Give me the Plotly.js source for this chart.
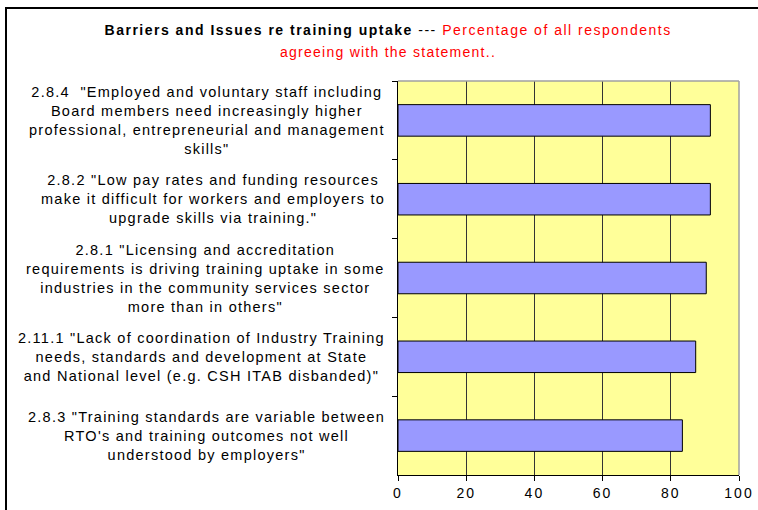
<!DOCTYPE html>
<html>
<head>
<meta charset="utf-8">
<script src="https://cdn.plot.ly/plotly-3.0.1.min.js"></script>
<style>
  body { margin: 0; padding: 0; background: #fff; overflow: hidden; }
  #chart { width: 758px; height: 510px; position: absolute; left: 0; top: 0; }
  #frame { position: absolute; left: 5px; top: 7px; width: 900px; height: 700px;
           border-top: 2px solid #000; border-left: 2px solid #000; pointer-events: none; }
  .annotation-text { letter-spacing: 1.25px; }
  .gtitle { letter-spacing: 1.5px; }
  .xtick text { letter-spacing: 2px; }
</style>
</head>
<body>
<div id="chart"></div>
<div id="frame"></div>
<script>
const categories = [
  '2.8.4  "Employed and voluntary staff including<br>Board members need increasingly higher<br>professional, entrepreneurial and management<br>skills"',
  '2.8.2 "Low pay rates and funding resources<br>make it difficult for workers and employers to<br>upgrade skills via training."',
  '2.8.1 "Licensing and accreditation<br>requirements is driving training uptake in some<br>industries in the community services sector<br>more than in others"',
  '2.11.1 "Lack of coordination of Industry Training<br>needs, standards and development at State<br>and National level (e.g. CSH ITAB disbanded)"',
  '2.8.3 "Training standards are variable between<br>RTO\'s and training outcomes not well<br>understood by employers"'
];
const categoryIds = ['2.8.4', '2.8.2', '2.8.1', '2.11.1', '2.8.3'];
const values = [91.6, 91.6, 90.4, 87.3, 83.4];
const xTicks = [0, 20, 40, 60, 80, 100];
const titleLine1 = '<b>Barriers and Issues re training uptake</b> --- <span style="color:#FF0000">Percentage of all respondents</span>';
const titleLine2 = 'agreeing with the statement..';

const font = 'Arial, "Liberation Sans", sans-serif';

const trace = {
  type: 'bar',
  orientation: 'h',
  x: values,
  y: categoryIds,
  marker: { color: '#9999FF', line: { color: '#000', width: 1 } },
  hoverinfo: 'x+y'
};

const annotations = categories.map((c, i) => ({
  xref: 'paper', yref: 'y',
  x: -0.031, y: categoryIds[i],
  xanchor: 'right', yanchor: 'middle',
  align: 'center',
  text: c,
  showarrow: false,
  font: { family: font, size: 14.5, color: '#000' }
}));
annotations.push({
  xref: 'paper', yref: 'paper',
  x: -0.029, y: 1.0736,
  xanchor: 'center', yanchor: 'middle',
  text: titleLine2,
  showarrow: false,
  font: { family: font, size: 14, color: '#FF0000' }
});

const layout = {
  width: 758, height: 510,
  margin: { l: 398, r: 19, t: 81, b: 35 },
  paper_bgcolor: '#fff',
  plot_bgcolor: '#FFFF99',
  showlegend: false,
  bargap: 0.6,
  title: {
    text: titleLine1,
    font: { family: font, size: 14, color: '#000' },
    xref: 'container', yref: 'container',
    x: 0.512, xanchor: 'center',
    y: 0.941, yanchor: 'middle'
  },
  xaxis: {
    range: [0, 100],
    tickvals: xTicks,
    ticktext: xTicks.map(String),
    ticks: 'outside', ticklen: 5, tickcolor: '#000', tickwidth: 1,
    showline: true, linecolor: '#000', linewidth: 1,
    showgrid: true, gridcolor: '#333', gridwidth: 1,
    zeroline: false,
    tickfont: { family: font, size: 14, color: '#000' },
    fixedrange: true
  },
  yaxis: {
    type: 'category',
    autorange: 'reversed',
    showticklabels: false,
    ticks: 'outside', tickson: 'boundaries', ticklen: 5, tickcolor: '#000', tickwidth: 1,
    showline: true, linecolor: '#000', linewidth: 1,
    showgrid: false, zeroline: false,
    fixedrange: true
  },
  shapes: [
    { type: 'line', xref: 'paper', yref: 'paper', x0: 0, x1: 1, y0: 1, y1: 1,
      line: { color: '#A0A0A0', width: 1.5 }, layer: 'above' },
    { type: 'line', xref: 'paper', yref: 'paper', x0: 1, x1: 1, y0: 0, y1: 1,
      line: { color: '#A0A0A0', width: 1.5 }, layer: 'above' }
  ],
  annotations: annotations
};

Plotly.newPlot('chart', [trace], layout, { displayModeBar: false, staticPlot: true });
</script>
</body>
</html>
